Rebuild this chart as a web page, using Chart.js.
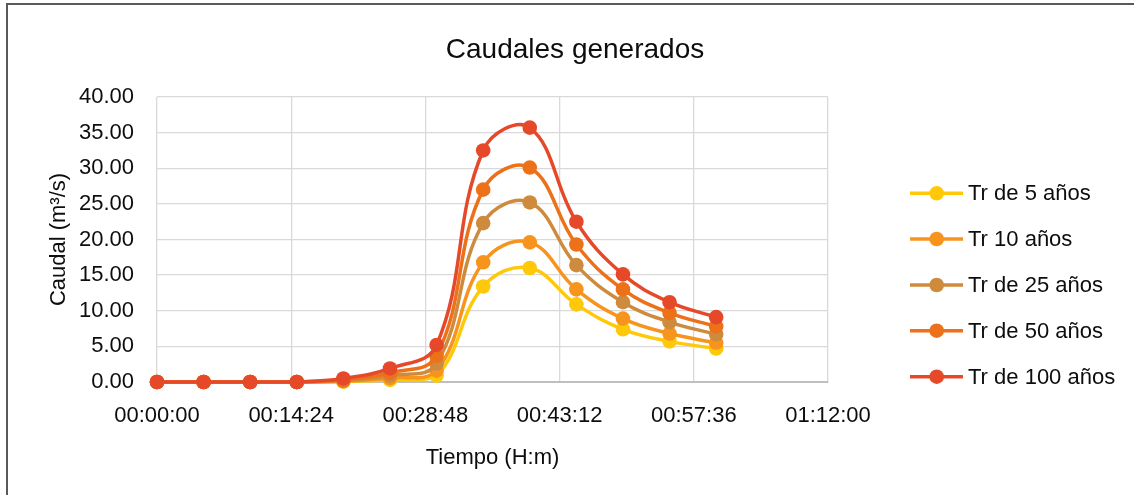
<!DOCTYPE html>
<html>
<head>
<meta charset="utf-8">
<style>
  html, body { margin: 0; padding: 0; background: #fff; overflow: hidden; }
  #marco { position: absolute; left: 6px; top: 3px; width: 1200px; height: 600px; border: 2px solid #595959; }
  #grafico { position: absolute; left: 0; top: 0; }
</style>
</head>
<body>
<div id="marco"><canvas id="grafico" width="1134" height="495"></canvas></div>
<script src="https://cdn.jsdelivr.net/npm/chart.js"></script>
<script>
  // tiempos de cada paso (H:M:S) y caudales en m3/s
  const tiempos = ['00:00:00', '00:05:00', '00:10:00', '00:15:00', '00:20:00', '00:25:00', '00:30:00',
                   '00:35:00', '00:40:00', '00:45:00', '00:50:00', '00:55:00', '01:00:00'];
  const tr5   = [0, 0, 0, 0, 0.05, 0.3, 0.9, 13.4, 16.0, 10.9, 7.4, 5.7, 4.7];
  const tr10  = [0, 0, 0, 0, 0.1, 0.55, 1.6, 16.8, 19.6, 13.0, 8.9, 6.8, 5.5];
  const tr25  = [0, 0, 0, 0, 0.2, 0.9, 2.6, 22.3, 25.2, 16.4, 11.2, 8.4, 6.7];
  const tr50  = [0, 0, 0, 0, 0.3, 1.3, 3.7, 27.0, 30.1, 19.3, 13.0, 9.7, 7.8];
  const tr100 = [0, 0, 0, 0, 0.5, 1.9, 5.2, 32.5, 35.7, 22.5, 15.1, 11.2, 9.1];

  const series = ['Tr de 5 años', 'Tr 10 años', 'Tr de 25 años', 'Tr de 50 años', 'Tr de 100 años'];
  const colores = ['#FFC90A', '#F7941E', '#CE8B3E', '#EC7118', '#E5492A'];

  const aMinutos = (t) => {
    const [h, m, s] = t.split(':').map(Number);
    return h * 60 + m + s / 60;
  };
  const aHora = (min) => {
    const seg = Math.round(min * 60);
    const p = (n) => String(n).padStart(2, '0');
    return p(Math.floor(seg / 3600)) + ':' + p(Math.floor(seg / 60) % 60) + ':' + p(seg % 60);
  };

  const minutos = tiempos.map(aMinutos);
  const datasets = [tr5, tr10, tr25, tr50, tr100].map((vals, i) => ({
    label: series[i],
    data: vals.map((v, j) => ({ x: minutos[j], y: v })),
    borderColor: colores[i],
    backgroundColor: colores[i],
    pointBackgroundColor: colores[i],
    pointBorderWidth: 0,
    pointRadius: 7.3,
    borderWidth: 3.5,
    tension: 0.4,
    fill: false,
    clip: false,
    order: 4 - i
  }));

  const fuente = "'Liberation Sans', Arial, sans-serif";
  Chart.defaults.font.family = fuente;
  Chart.defaults.color = '#0d0d0d';

  // título centrado en el lienzo
  const titulo = {
    id: 'titulo',
    afterDraw(chart) {
      const ctx = chart.ctx;
      ctx.save();
      ctx.fillStyle = '#0d0d0d';
      ctx.font = '28px ' + fuente;
      ctx.textAlign = 'center';
      ctx.textBaseline = 'middle';
      ctx.fillText('Caudales generados', 567, 45.5);
      ctx.restore();
    }
  };

  // leyenda a la derecha: línea con marcador y texto
  const leyenda = {
    id: 'leyenda',
    afterDraw(chart) {
      const ctx = chart.ctx;
      const filas = [188.3, 234, 280, 325.7, 371.7];
      ctx.save();
      chart.data.datasets.forEach((ds, i) => {
        const y = filas[i];
        ctx.strokeStyle = ds.borderColor;
        ctx.lineWidth = 3.5;
        ctx.beginPath();
        ctx.moveTo(902, y);
        ctx.lineTo(955, y);
        ctx.stroke();
        ctx.fillStyle = ds.borderColor;
        ctx.beginPath();
        ctx.arc(928.7, y, 7.3, 0, Math.PI * 2);
        ctx.fill();
        ctx.fillStyle = '#0d0d0d';
        ctx.font = '22px ' + fuente;
        ctx.textBaseline = 'middle';
        ctx.fillText(ds.label, 960, y + 1);
      });
      ctx.restore();
    }
  };

  new Chart(document.getElementById('grafico').getContext('2d'), {
    type: 'line',
    data: { datasets },
    plugins: [titulo, leyenda],
    options: {
      responsive: false,
      animation: false,
      layout: { padding: { left: 0, right: 314, top: 92, bottom: 0 } },
      plugins: {
        legend: { display: false },
        tooltip: { enabled: false },
        title: { display: false }
      },
      scales: {
        x: {
          type: 'linear',
          min: 0,
          max: 72,
          afterFit: (s) => { s.height = 118; },
          ticks: {
            stepSize: 14.4,
            padding: 21,
            maxRotation: 0,
            font: { size: 22 },
            callback: (v) => aHora(v)
          },
          grid: { color: '#D9D9D9', lineWidth: 1.3, drawTicks: false },
          border: { color: '#BFBFBF', width: 2 },
          title: {
            display: true,
            text: 'Tiempo (H:m)',
            font: { size: 22 },
            padding: { top: 0, bottom: 29 }
          }
        },
        y: {
          min: 0,
          max: 40,
          afterFit: (s) => { s.width = 149; },
          ticks: {
            stepSize: 5,
            padding: 23,
            font: { size: 22 },
            callback: (v) => v.toFixed(2)
          },
          grid: { color: '#D9D9D9', lineWidth: 1.3, drawTicks: false },
          border: { display: false },
          title: {
            display: true,
            text: 'Caudal (m³/s)',
            font: { size: 22 },
            padding: { top: 38, bottom: 0 }
          }
        }
      }
    }
  });
</script>
</body>
</html>
